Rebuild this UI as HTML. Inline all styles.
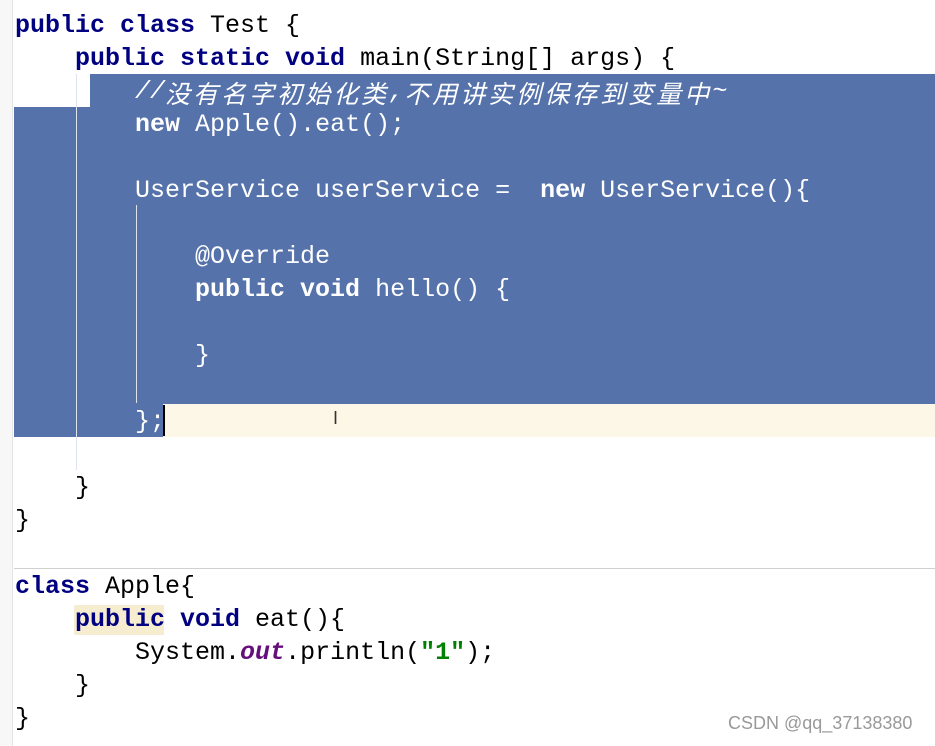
<!DOCTYPE html>
<html><head><meta charset="utf-8"><style>
html,body{margin:0;padding:0;width:935px;height:746px;overflow:hidden;background:#fff;position:relative}
.l{position:absolute;left:15px;height:33px;line-height:33px;font:25px "Liberation Mono","Noto Sans CJK SC",monospace;white-space:pre;color:#000;overflow:visible}
.k{color:#000080;font-weight:bold}
.s{color:#fff}
.r{position:absolute}
.cj{font-family:"Noto Sans CJK SC",sans-serif;letter-spacing:3px;font-style:italic;line-height:25px;display:inline-block;vertical-align:top;margin-top:4px}
</style></head><body>
<div class="r" style="left:0;top:0;width:12px;height:746px;background:#f7f7f7;border-right:1px solid #e4e4e4"></div>
<div class="r" style="left:90px;top:74px;width:845px;height:33px;background:#5572ab"></div>
<div class="r" style="left:14px;top:107px;width:921px;height:297px;background:#5572ab"></div>
<div class="r" style="left:14px;top:404px;width:149px;height:33px;background:#5572ab"></div>
<div class="r" style="left:163px;top:404px;width:772px;height:33px;background:#fdf7e7"></div>
<div class="r" style="left:163px;top:405px;width:2px;height:31px;background:#000"></div>
<div class="r" style="left:76px;top:74px;width:1px;height:396px;background:#dfe3ea"></div>
<div class="r" style="left:136px;top:205px;width:1px;height:198px;background:#dfe3ea"></div>
<div class="r" style="left:14px;top:568px;width:921px;height:1px;background:#d0d0d0"></div>
<div class="r" style="left:74px;top:605px;width:90px;height:30px;background:#f6ecd0"></div>

<div class="l" style="top:11px"><span class="k">public class</span> Test {</div>
<div class="l" style="top:44px">    <span class="k">public static void</span> main(String[] args) {</div>
<div class="l s" style="top:77px">        <i>//<span class="cj">没有名字初始化类</span>,<span class="cj">不用讲实例保存到变量中</span>~</i></div>
<div class="l s" style="top:110px">        <b>new</b> Apple().eat();</div>
<div class="l s" style="top:176px">        UserService userService =  <b>new</b> UserService(){</div>
<div class="l s" style="top:242px">            @Override</div>
<div class="l s" style="top:275px">            <b>public void</b> hello() {</div>
<div class="l s" style="top:341px">            }</div>
<div class="l s" style="top:407px">        };</div>
<div class="r" style="left:333px;top:408px;font:18px 'Liberation Sans',sans-serif;color:#333">I</div>
<div class="l" style="top:473px">    }</div>
<div class="l" style="top:506px">}</div>
<div class="l" style="top:572px"><span class="k">class</span> Apple{</div>
<div class="l" style="top:605px">    <span class="k">public void</span> eat(){</div>
<div class="l" style="top:638px">        System.<b style="color:#660e7a;font-style:italic">out</b>.println(<b style="color:#008000">"1"</b>);</div>
<div class="l" style="top:671px">    }</div>
<div class="l" style="top:704px">}</div>
<div class="r" style="left:728px;top:713px;font:18px 'Liberation Sans',sans-serif;color:#999">CSDN @qq_37138380</div>
</body></html>
